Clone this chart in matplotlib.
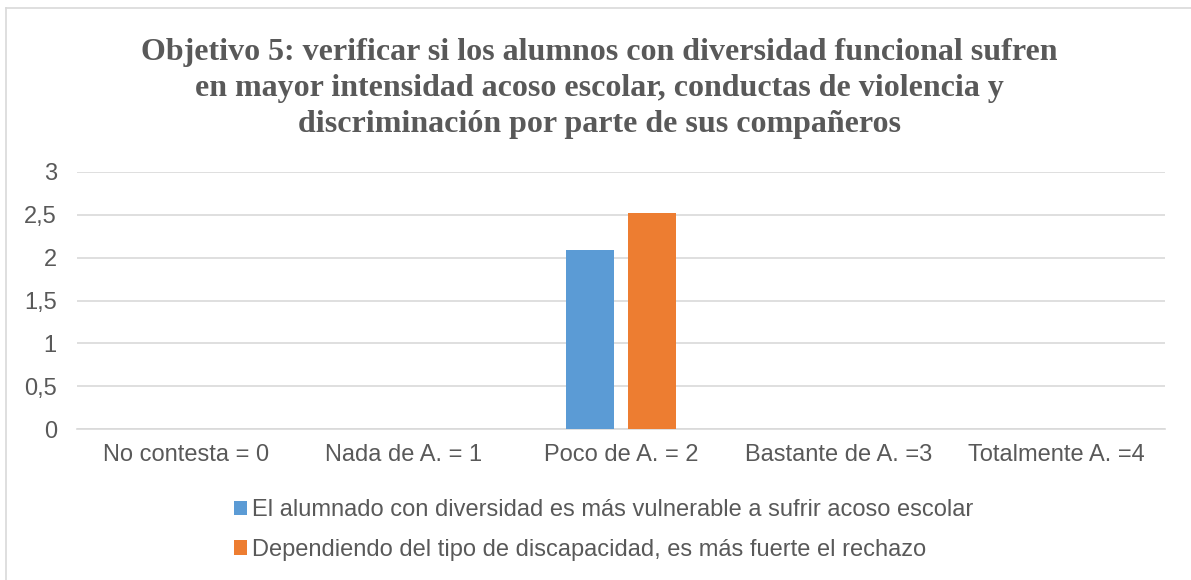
import matplotlib.pyplot as plt
import numpy as np

categories = ["No contesta = 0", "Nada de A. = 1", "Poco de A. = 2",
              "Bastante de A. =3", "Totalmente A. =4"]
serie1 = [0, 0, 2.09, 0, 0]
serie2 = [0, 0, 2.52, 0, 0]
labels = ["El alumnado con diversidad es más vulnerable a sufrir acoso escolar",
          "Dependiendo del tipo de discapacidad, es más fuerte el rechazo"]
yticks = [0, 0.5, 1, 1.5, 2, 2.5, 3]
ytick_labels = ["0", "0,5", "1", "1,5", "2", "2,5", "3"]
title_lines = ["Objetivo 5: verificar si los alumnos con diversidad funcional sufren",
               "en mayor intensidad acoso escolar, conductas de violencia y",
               "discriminación por parte de sus compañeros"]

blue = "#5b9bd5"
orange = "#ed7d31"
grey = "#595959"
W, H = 1191, 580

plt.rcParams['font.family'] = ['Liberation Sans', 'DejaVu Sans']

fig = plt.figure(figsize=(W / 100, H / 100), dpi=100)
ax = fig.add_axes([77 / W, 1 - 429 / H, (1165 - 77) / W, (429 - 172) / H])

x = np.arange(len(categories))
w = 0.225
gap = 0.06
ax.bar(x - (w + gap) / 2, serie1, w, color=blue, label=labels[0], zorder=3)
ax.bar(x + (w + gap) / 2, serie2, w, color=orange, label=labels[1], zorder=3)

ax.set_xlim(-0.5, len(categories) - 0.5)
ax.set_ylim(0, 3)
ax.set_yticks(yticks)
ax.set_yticklabels(ytick_labels)
ax.set_xticks(x)
ax.set_xticklabels(categories)
ax.tick_params(axis='both', length=0, labelsize=17, labelcolor=grey)
ax.tick_params(axis='y', pad=14.5)
ax.tick_params(axis='x', pad=10.5)
ax.yaxis.grid(True, color="#d9d9d9", linewidth=1.2, zorder=0)
for s in ['top', 'right', 'left']:
    ax.spines[s].set_visible(False)
ax.spines['bottom'].set_color("#d9d9d9")
ax.spines['bottom'].set_linewidth(1.2)

# title, one line at a time (baselines at 60, 96, 132 px)
for i, line in enumerate(title_lines):
    fig.text(599.5 / W, 1 - (60 + 36 * i) / H, line, ha='center', va='baseline',
             fontsize=23, fontweight='bold', family='Liberation Serif', color=grey)

fig.legend(loc='center', bbox_to_anchor=(603.5 / W, 1 - 530 / H), ncol=1,
           frameon=False, fontsize=17, labelcolor=grey, handlelength=0.55,
           handleheight=0.55, handletextpad=0.2, labelspacing=0.75,
           borderpad=0, borderaxespad=0)

# outer chart border (left and top visible)
fig.add_artist(plt.Line2D([6 / W, 6 / W], [0, 1 - 8 / H], transform=fig.transFigure,
                          color="#d9d9d9", linewidth=1.2))
fig.add_artist(plt.Line2D([6 / W, 1], [1 - 8 / H, 1 - 8 / H], transform=fig.transFigure,
                          color="#d9d9d9", linewidth=1.2))

fig.savefig("out.png", dpi=100)
